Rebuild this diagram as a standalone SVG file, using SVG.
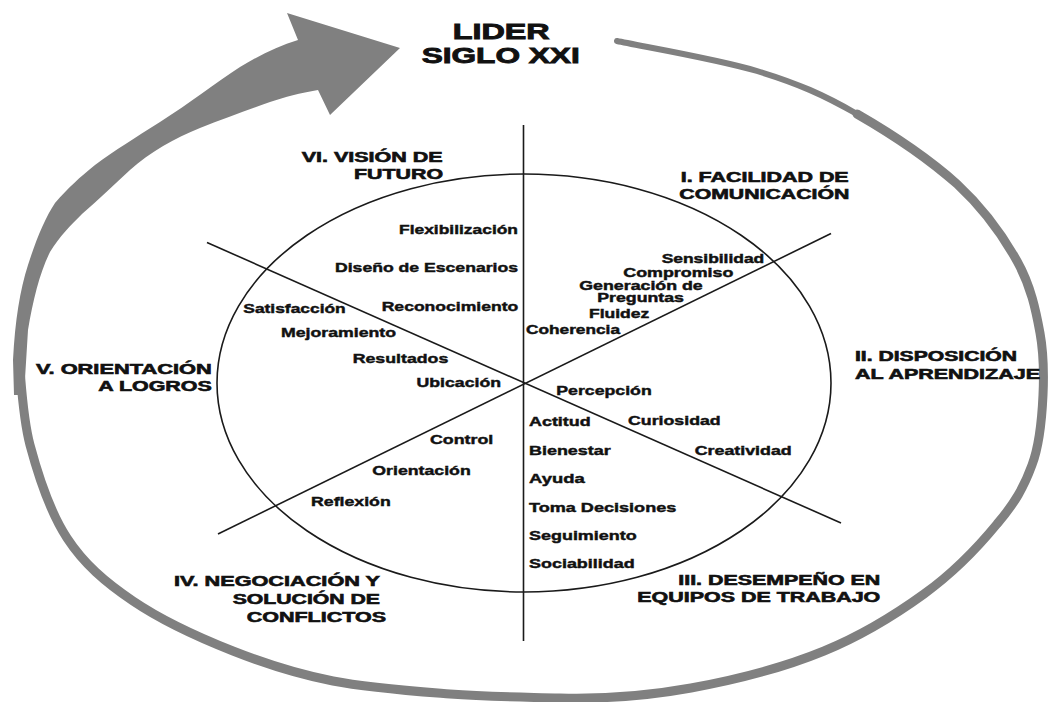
<svg xmlns="http://www.w3.org/2000/svg" width="1048" height="702" viewBox="0 0 1048 702">
<style>
text{font-family:"Liberation Sans",Arial,sans-serif;font-weight:bold;fill:#111;stroke:#111;stroke-width:0.45;}
.h{font-size:14px;stroke-width:0.6;}
.t{font-size:22.5px;stroke-width:0.9;}
.l{font-size:13.5px;}
.s{font-size:12.8px;}
.ln{stroke:#1a1a1a;stroke-width:1.6;fill:none;}
.ring{stroke:#808080;fill:none;stroke-linecap:round;stroke-linejoin:round;}
</style>
<rect width="1048" height="702" fill="#fff"/>
<g id="cycle-arrow">
<path class="ring" stroke-width="6" d="M617,41 C640,46 717,59 757,71 C797,83 824,95 857,114"/>
<path class="ring" stroke-width="9" d="M857,114 C890,133 930,160 957,184 C984,209 1003,236 1017,261 C1031,286 1036,311 1040,333 C1044,355 1044,373 1043,395 C1042,417 1040,444 1032,465 C1024,487 1015,503 997,524 C979,546 953,573 924,594 C895,615 863,635 824,651 C785,667 735,680 691,688 C647,696 600,699 560,698 C520,697 488,697 450,694 C412,691 369,688 333,681 C297,674 266,664 233,651 C200,638 161,620 133,601 C105,582 84,564 67,538 C50,512 38,475 30,445 C22,415 21,374 19,360 L19,390"/>
<path fill="#808080" d="M14,395 L13,360 C15,320 20,290 28,265 C36,240 45,218 55,203 C68,188 80,177 95,165 C115,150 135,138 160,122 C190,103 215,83 240,67 C260,55 278,46 298,40 L287,13 L400,48 L330,115 L318,90 C300,93 285,97 270,102 C250,109 225,118 200,128 C175,138 150,152 130,170 C115,184 98,200 82,214 C70,226 60,236 50,252 C40,272 33,300 28,330 L24,395 Z"/>
</g>
<g id="connectors">
<ellipse class="ln" cx="524" cy="383" rx="307" ry="209"/>
<line class="ln" x1="523.5" y1="125" x2="523.5" y2="641" stroke-width="2"/>
<line class="ln" x1="207" y1="242.5" x2="841" y2="523"/>
<line class="ln" x1="831" y1="233.5" x2="218" y2="534"/>
</g>
<g id="title">
<text class="t" x="452.7" y="39" textLength="97" lengthAdjust="spacingAndGlyphs">LIDER</text>
<text class="t" x="421.7" y="63" textLength="158" lengthAdjust="spacingAndGlyphs">SIGLO XXI</text>
</g>
<g id="node-vi">
<text class="h" x="301.7" y="161.7" textLength="141" lengthAdjust="spacingAndGlyphs">VI. VISIÓN DE</text>
<text class="h" x="354" y="179.3" textLength="89" lengthAdjust="spacingAndGlyphs">FUTURO</text>
<text class="l" x="399" y="234" textLength="119" lengthAdjust="spacingAndGlyphs">Flexibilización</text>
<text class="l" x="335" y="272.3" textLength="183" lengthAdjust="spacingAndGlyphs">Diseño de Escenarios</text>
<text class="l" x="381.7" y="310.7" textLength="136.6" lengthAdjust="spacingAndGlyphs">Reconocimiento</text>
</g>
<g id="node-i">
<text class="h" x="680.7" y="181.7" textLength="168" lengthAdjust="spacingAndGlyphs">I. FACILIDAD DE</text>
<text class="h" x="679.3" y="199.3" textLength="170" lengthAdjust="spacingAndGlyphs">COMUNICACIÓN</text>
<text class="s" x="661.7" y="262.7" textLength="102.6" lengthAdjust="spacingAndGlyphs">Sensibilidad</text>
<text class="s" x="623.3" y="277" textLength="110" lengthAdjust="spacingAndGlyphs">Compromiso</text>
<text class="s" x="579.3" y="289.5" textLength="123.4" lengthAdjust="spacingAndGlyphs">Generación de</text>
<text class="s" x="597.3" y="301.5" textLength="86.7" lengthAdjust="spacingAndGlyphs">Preguntas</text>
<text class="s" x="589" y="318.3" textLength="60.3" lengthAdjust="spacingAndGlyphs">Fluidez</text>
<text class="s" x="526" y="334.3" textLength="94" lengthAdjust="spacingAndGlyphs">Coherencia</text>
</g>
<g id="node-ii">
<text class="h" x="855" y="361" textLength="162" lengthAdjust="spacingAndGlyphs">II. DISPOSICIÓN</text>
<text class="h" x="855" y="379.3" textLength="185" lengthAdjust="spacingAndGlyphs">AL APRENDIZAJE</text>
<text class="l" x="556.3" y="395.3" textLength="95.4" lengthAdjust="spacingAndGlyphs">Percepción</text>
<text class="l" x="628" y="425" textLength="92.7" lengthAdjust="spacingAndGlyphs">Curiosidad</text>
<text class="l" x="694.7" y="455" textLength="97" lengthAdjust="spacingAndGlyphs">Creatividad</text>
</g>
<g id="node-iii">
<text class="h" x="678.3" y="585.3" textLength="202" lengthAdjust="spacingAndGlyphs">III. DESEMPEÑO EN</text>
<text class="h" x="637.3" y="601.7" textLength="243" lengthAdjust="spacingAndGlyphs">EQUIPOS DE TRABAJO</text>
<text class="l" x="529" y="426" textLength="61.7" lengthAdjust="spacingAndGlyphs">Actitud</text>
<text class="l" x="529" y="455" textLength="81.7" lengthAdjust="spacingAndGlyphs">Bienestar</text>
<text class="l" x="529" y="482.7" textLength="55.7" lengthAdjust="spacingAndGlyphs">Ayuda</text>
<text class="l" x="529" y="512" textLength="147.3" lengthAdjust="spacingAndGlyphs">Toma Decisiones</text>
<text class="l" x="529" y="540" textLength="107.7" lengthAdjust="spacingAndGlyphs">Seguimiento</text>
<text class="l" x="529" y="567.7" textLength="105.7" lengthAdjust="spacingAndGlyphs">Sociabilidad</text>
</g>
<g id="node-iv">
<text class="h" x="174" y="586" textLength="206" lengthAdjust="spacingAndGlyphs">IV. NEGOCIACIÓN Y</text>
<text class="h" x="232.7" y="604.3" textLength="147.3" lengthAdjust="spacingAndGlyphs">SOLUCIÓN DE</text>
<text class="h" x="246.7" y="621.7" textLength="139.3" lengthAdjust="spacingAndGlyphs">CONFLICTOS</text>
<text class="l" x="430" y="443.7" textLength="63.3" lengthAdjust="spacingAndGlyphs">Control</text>
<text class="l" x="372.3" y="475" textLength="98.4" lengthAdjust="spacingAndGlyphs">Orientación</text>
<text class="l" x="311" y="506" textLength="79.7" lengthAdjust="spacingAndGlyphs">Reflexión</text>
</g>
<g id="node-v">
<text class="h" x="36" y="373.7" textLength="175.7" lengthAdjust="spacingAndGlyphs">V. ORIENTACIÓN</text>
<text class="h" x="98.3" y="391" textLength="113.4" lengthAdjust="spacingAndGlyphs">A LOGROS</text>
<text class="l" x="243.3" y="313.3" textLength="102.4" lengthAdjust="spacingAndGlyphs">Satisfacción</text>
<text class="l" x="281" y="337" textLength="115" lengthAdjust="spacingAndGlyphs">Mejoramiento</text>
<text class="l" x="352.7" y="362.7" textLength="95.6" lengthAdjust="spacingAndGlyphs">Resultados</text>
<text class="l" x="416.5" y="387" textLength="84.5" lengthAdjust="spacingAndGlyphs">Ubicación</text>
</g>
</svg>
